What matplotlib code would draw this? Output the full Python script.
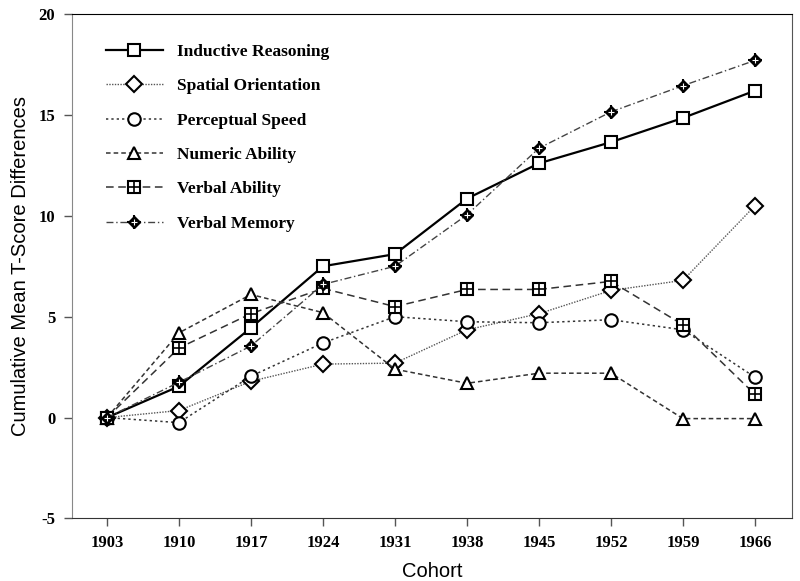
import matplotlib
matplotlib.use("Agg")
import matplotlib.pyplot as plt
from matplotlib.legend_handler import HandlerTuple

plt.rcParams["axes.unicode_minus"] = False

cohorts = [1903, 1910, 1917, 1924, 1931, 1938, 1945, 1952, 1959, 1966]

inductive = [0, 1.55, 4.45, 7.5, 8.1, 10.85, 12.6, 13.65, 14.85, 16.2]
spatial = [0, 0.35, 1.8, 2.65, 2.7, 4.35, 5.15, 6.3, 6.8, 10.5]
perceptual = [0, -0.25, 2.05, 3.7, 5.0, 4.75, 4.7, 4.85, 4.35, 2.0]
numeric = [0, 4.2, 6.1, 5.2, 2.4, 1.7, 2.2, 2.2, -0.05, -0.05]
verbal_ability = [0, 3.45, 5.15, 6.4, 5.5, 6.35, 6.35, 6.75, 4.6, 1.15]
verbal_memory = [0, 1.75, 3.55, 6.6, 7.5, 10.05, 13.35, 15.15, 16.45, 17.7]

fig = plt.figure(figsize=(8, 5.81), dpi=100)
ax = fig.add_axes([0.09, 0.1076, 0.9, 0.8683])

mk = dict(markersize=9, markerfacecolor="white", markeredgecolor="black",
          markeredgewidth=1.5)

h1, = ax.plot(cohorts, inductive, color="black", lw=1.6, ls="-", marker="s", **mk)
h2, = ax.plot(cohorts, spatial, color="#555555", lw=1.0, ls=(0, (1, 1)), marker="D",
              markersize=8, markerfacecolor="white", markeredgecolor="black",
              markeredgewidth=1.5)
h3, = ax.plot(cohorts, perceptual, color="#333333", lw=1.1, ls=(0, (1.5, 2)),
              marker="o", **mk)
h4, = ax.plot(cohorts, numeric, color="#333333", lw=1.1, ls=(0, (3, 2)),
              marker="^", **mk)
h5, = ax.plot(cohorts, verbal_ability, color="#333333", lw=1.1, ls=(0, (5, 3)),
              marker="s", markersize=8, markerfacecolor="white",
              markeredgecolor="black", markeredgewidth=1.5)
h5b, = ax.plot(cohorts, verbal_ability, ls="none", marker="+", markersize=8,
               markeredgecolor="black", markeredgewidth=1.2)
h6, = ax.plot(cohorts, verbal_memory, color="#444444", lw=1.0,
              ls=(0, (5, 2, 1, 2)), marker="D", markersize=6,
              markerfacecolor="black", markeredgecolor="black")
h6b, = ax.plot(cohorts, verbal_memory, ls="none", marker="+", markersize=10,
               markeredgecolor="black", markeredgewidth=1.5)
h6c, = ax.plot(cohorts, verbal_memory, ls="none", marker="+", markersize=5,
               markeredgecolor="white", markeredgewidth=0.8)

labels = ["Inductive Reasoning", "Spatial Orientation", "Perceptual Speed",
          "Numeric Ability", "Verbal Ability", "Verbal Memory"]
leg = ax.legend([h1, h2, h3, h4, (h5, h5b), (h6, h6b, h6c)], labels,
                loc="upper left", bbox_to_anchor=(0.025, 0.972), frameon=False,
                handlelength=3.3, handletextpad=0.8, labelspacing=1.05,
                handler_map={tuple: HandlerTuple(ndivide=1, pad=0)},
                prop={"family": "Liberation Serif", "weight": "bold", "size": 12.5})

ax.set_xlim(1899.6, 1969.6)
ax.set_ylim(-5, 20)
ax.set_xticks(cohorts)
ax.set_yticks([-5, 0, 5, 10, 15, 20])
for t in ax.get_xticklabels() + ax.get_yticklabels():
    t.set_fontfamily("Liberation Serif")
    t.set_fontweight("bold")
    t.set_fontsize(12)
ax.tick_params(direction="out", length=6, width=1, color="#555555", pad=6)

ax.spines["left"].set_color("#888888")
ax.spines["bottom"].set_color("#333333")
ax.spines["top"].set_color("black")
ax.spines["right"].set_color("#555555")

ax.set_xlabel("Cohort", fontsize=14.5, family="Liberation Sans", labelpad=8)
ax.set_ylabel("Cumulative Mean T-Score Differences", fontsize=14.5,
              family="Liberation Sans", labelpad=6)

fig.savefig("out.png", dpi=100)
